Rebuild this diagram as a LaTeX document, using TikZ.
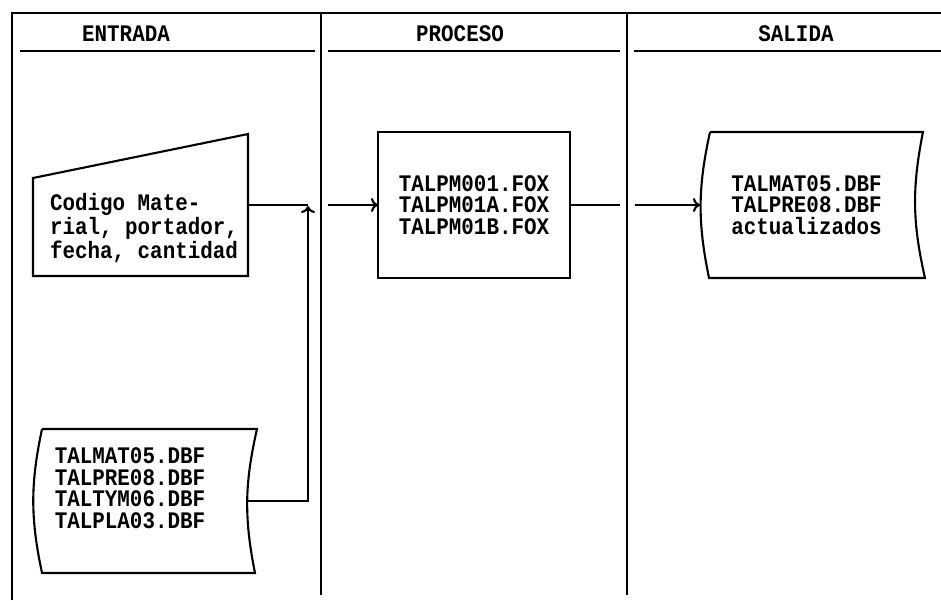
\documentclass[tikz,border=0pt]{standalone}
\usepackage{fontspec}
\usetikzlibrary{arrows.meta}
\newfontfamily\dosfont[FakeStretch=0.88]{Liberation Mono}
\begin{document}
\begin{tikzpicture}[x=0.02cm, y=-0.02cm, line width=1.2pt, >={To[length=4pt,width=8pt]},
    txt/.style={font=\dosfont\bfseries\fontsize{13.5pt}{12.3pt}\selectfont, align=left, inner sep=0pt},
    box/.style={rectangle, inner sep=0pt, outer sep=0pt}]
    \useasboundingbox (0,0) rectangle (941,600);
    % marco y columnas
    \draw (12,600) -- (12,13) -- (941,13);
    \draw (321,13) -- (321,595);
    \draw (627,13) -- (627,595);
    \draw (20,51) -- (315,51);
    \draw (328,51) -- (620,51);
    \draw (634,51) -- (941,51);
    \node[txt] (entrada) at (126,34) {ENTRADA};
    \node[txt] (proceso) at (460,34) {PROCESO};
    \node[txt] (salida) at (796,34) {SALIDA};
    % entrada manual
    \node[box, minimum width=4.3cm, minimum height=2.84cm] (codigo) at (140.5,205) {};
    \draw ([yshift=-0.88cm]codigo.north west) -- (codigo.north east) -- (codigo.south east)
        -- (codigo.south west) -- cycle;
    \node[txt] (codigotxt) at (144,228) {Codigo Mate-\\rial, portador,\\fecha, cantidad};
    % archivos de entrada
    \node[box, minimum width=4.28cm, minimum height=2.88cm] (archivos) at (140,501) {};
    \draw ([xshift=0.18cm]archivos.north west) -- ([xshift=0.2cm]archivos.north east)
        to[bend right=12] ([xshift=0.16cm]archivos.south east)
        -- ([xshift=0.18cm]archivos.south west) to[bend left=12] ([xshift=0.18cm]archivos.north west);
    \node[txt] (archivostxt) at (130,488) {TALMAT05.DBF\\TALPRE08.DBF\\TALTYM06.DBF\\TALPLA03.DBF};
    % programas
    \node[box, draw, minimum width=3.84cm, minimum height=2.92cm, txt] (programas) at (474,205)
        {TALPM001.FOX\\TALPM01A.FOX\\TALPM01B.FOX};
    % archivos actualizados
    \node[box, minimum width=4.26cm, minimum height=2.92cm, txt] (actualizados) at (806.5,205)
        {TALMAT05.DBF\\TALPRE08.DBF\\actualizados};
    \draw ([xshift=0.2cm]actualizados.north west) -- ([xshift=0.2cm]actualizados.north east)
        to[bend right=12] ([xshift=0.24cm]actualizados.south east)
        -- ([xshift=0.18cm]actualizados.south west) to[bend left=12] ([xshift=0.2cm]actualizados.north west);
    % conexiones
    \coordinate (union) at (308,206);
    \coordinate (procin) at (328,205);
    \coordinate (procout) at (620,205);
    \coordinate (salin) at (635,205);
    \draw (codigo.east) -- (308,205);
    \draw[->] (archivos.east) -| (union);
    \draw[->] (procin) -- (programas.west);
    \draw (programas.east) -- (procout);
    \draw[->] (salin) -- (actualizados.west);
\end{tikzpicture}
\end{document}
